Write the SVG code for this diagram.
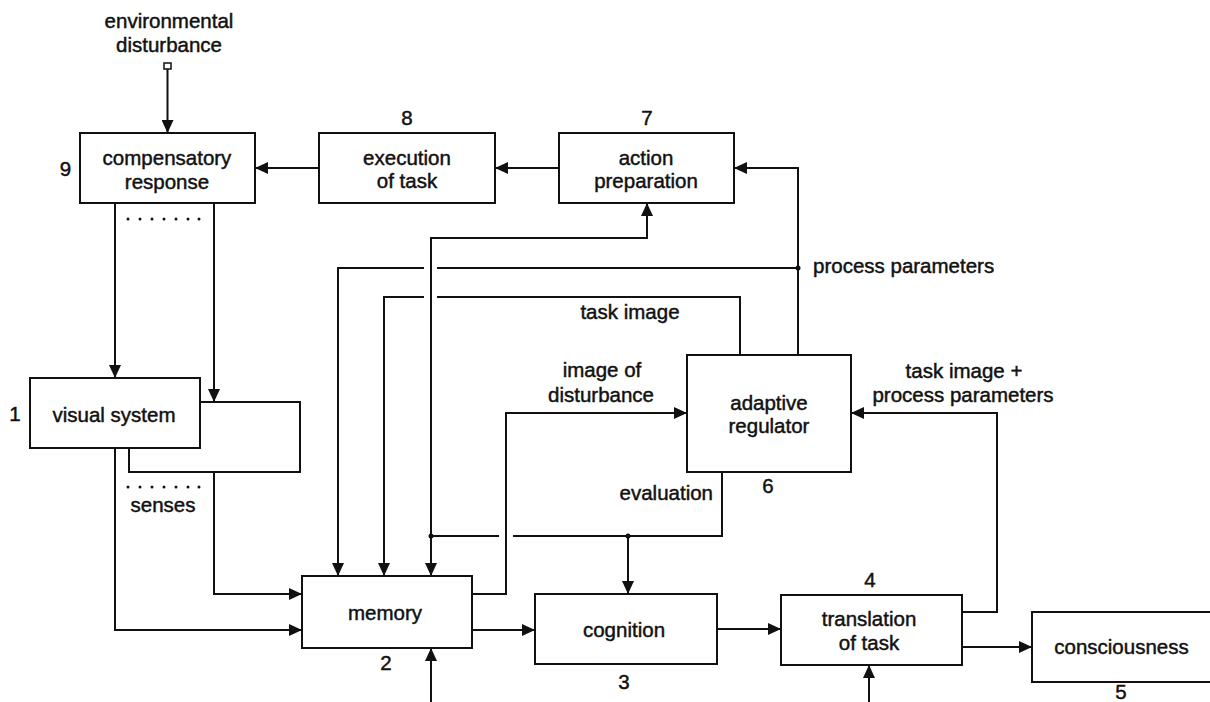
<svg xmlns="http://www.w3.org/2000/svg" width="1210" height="702" viewBox="0 0 1210 702">
<style>
.box{fill:#fff;stroke:#111;stroke-width:2}
.ln{fill:none;stroke:#111;stroke-width:2}
.t{font-family:"Liberation Sans",Arial,sans-serif;font-size:20.5px;fill:#111;stroke:#111;stroke-width:0.45;text-anchor:middle}
.s{text-anchor:start}
.e{text-anchor:end}
.dot{fill:#111}
</style>
<defs>
<marker id="ah" markerUnits="userSpaceOnUse" markerWidth="14" markerHeight="12" refX="13" refY="6" orient="auto">
<path d="M0,0 L13,6 L0,12 z" fill="#111"/>
</marker>
</defs>
<rect width="1210" height="702" fill="#fff"/>

<g id="connectors">
<rect x="164" y="63" width="7" height="6" fill="#fff" stroke="#111" stroke-width="1.5"/>
<path class="ln" d="M167.5,69 V133" marker-end="url(#ah)"/>
<path class="ln" d="M319,168 H255" marker-end="url(#ah)"/>
<path class="ln" d="M559,168 H495" marker-end="url(#ah)"/>
<path class="ln" d="M115,203 V378" marker-end="url(#ah)"/>
<path class="ln" d="M214,203 V402" marker-end="url(#ah)"/>
<path class="ln" d="M115,448 V630 H302" marker-end="url(#ah)"/>
<path class="ln" d="M214,472 V594 H302" marker-end="url(#ah)"/>
<path class="ln" d="M798,355 V168 H734" marker-end="url(#ah)"/>
<path class="ln" d="M798,268 H437"/>
<path class="ln" d="M424,268 H338 V576" marker-end="url(#ah)"/>
<path class="ln" d="M740,355 V297 H437"/>
<path class="ln" d="M424,297 H384 V576" marker-end="url(#ah)"/>
<path class="ln" d="M431,536 V238 H647 V203" marker-end="url(#ah)"/>
<path class="ln" d="M431,536 V576" marker-end="url(#ah)"/>
<path class="ln" d="M722,472 V536 H513"/>
<path class="ln" d="M499,536 H431"/>
<path class="ln" d="M628,536 V594" marker-end="url(#ah)"/>
<path class="ln" d="M472,594 H506 V413 H687" marker-end="url(#ah)"/>
<path class="ln" d="M472,630 H535" marker-end="url(#ah)"/>
<path class="ln" d="M431,702 V648" marker-end="url(#ah)"/>
<path class="ln" d="M717,629 H781" marker-end="url(#ah)"/>
<path class="ln" d="M962,612 H997 V413 H851" marker-end="url(#ah)"/>
<path class="ln" d="M962,647 H1032" marker-end="url(#ah)"/>
<path class="ln" d="M869,702 V665" marker-end="url(#ah)"/>
<circle class="dot" cx="798" cy="268" r="2.5"/>
<circle class="dot" cx="431" cy="536" r="2.5"/>
<circle class="dot" cx="628" cy="536" r="2.5"/>
</g>

<g id="labels">
<text class="t" x="169" y="28">environmental</text>
<text class="t" x="169" y="52">disturbance</text>
<text class="t s" x="813" y="273">process parameters</text>
<text class="t" x="630" y="319">task image</text>
<text class="t" x="602" y="377">image of</text>
<text class="t" x="601" y="402">disturbance</text>
<text class="t" x="964" y="378">task image +</text>
<text class="t" x="963" y="402">process parameters</text>
<text class="t e" x="713" y="500">evaluation</text>
<text class="t" x="163" y="512">senses</text>
<g fill="#111">
<circle cx="128" cy="487" r="1.5"/><circle cx="140" cy="487" r="1.5"/><circle cx="152" cy="487" r="1.5"/><circle cx="164" cy="487" r="1.5"/><circle cx="176" cy="487" r="1.5"/><circle cx="188" cy="487" r="1.5"/><circle cx="199" cy="487" r="1.5"/>
<circle cx="128" cy="219" r="1.5"/><circle cx="140" cy="219" r="1.5"/><circle cx="152" cy="219" r="1.5"/><circle cx="164" cy="219" r="1.5"/><circle cx="176" cy="219" r="1.5"/><circle cx="188" cy="219" r="1.5"/><circle cx="199" cy="219" r="1.5"/>
</g>
</g>

<g id="n9">
<rect class="box" x="80" y="133" width="175" height="70"/>
<text class="t" x="167" y="165">compensatory</text>
<text class="t" x="167" y="189">response</text>
<text class="t" x="65.5" y="176">9</text>
</g>
<g id="n8">
<rect class="box" x="319" y="133" width="176" height="70"/>
<text class="t" x="407" y="165">execution</text>
<text class="t" x="407" y="188">of task</text>
<text class="t" x="407" y="125">8</text>
</g>
<g id="n7">
<rect class="box" x="559" y="133" width="175" height="70"/>
<text class="t" x="646" y="165">action</text>
<text class="t" x="646" y="188">preparation</text>
<text class="t" x="647" y="125">7</text>
</g>
<g id="senses">
<rect class="box" x="129" y="402" width="171" height="70"/>
</g>
<g id="n1">
<rect class="box" x="30" y="378" width="170" height="70"/>
<text class="t" x="114" y="422">visual system</text>
<text class="t" x="15" y="421">1</text>
</g>
<g id="n2">
<rect class="box" x="302" y="576" width="170" height="72"/>
<text class="t" x="385" y="620">memory</text>
<text class="t" x="386" y="670">2</text>
</g>
<g id="n3">
<rect class="box" x="535" y="594" width="182" height="70"/>
<text class="t" x="624" y="637">cognition</text>
<text class="t" x="624" y="689">3</text>
</g>
<g id="n4">
<rect class="box" x="781" y="595" width="181" height="70"/>
<text class="t" x="869" y="626">translation</text>
<text class="t" x="869" y="650">of task</text>
<text class="t" x="870" y="587">4</text>
</g>
<g id="n5">
<rect class="box" x="1032" y="612" width="180" height="70"/>
<text class="t" x="1121.5" y="654">consciousness</text>
<text class="t" x="1121" y="699">5</text>
</g>
<g id="n6">
<rect class="box" x="687" y="355" width="164" height="117"/>
<text class="t" x="769" y="410">adaptive</text>
<text class="t" x="769" y="433">regulator</text>
<text class="t" x="768" y="493">6</text>
</g>
</svg>
